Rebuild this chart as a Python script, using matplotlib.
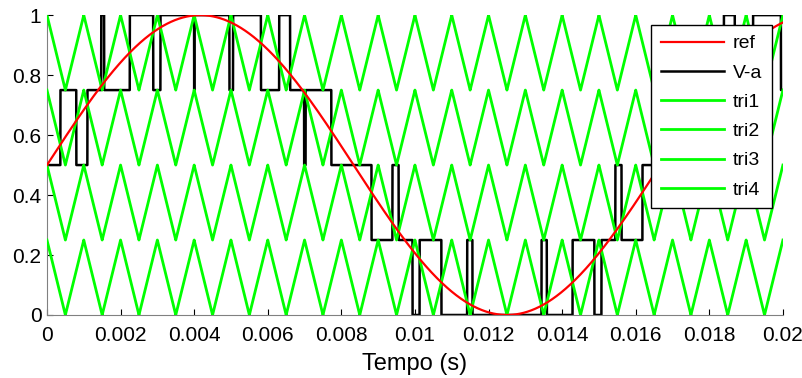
import numpy as np
import matplotlib
matplotlib.use("Agg")
import matplotlib.pyplot as plt
from matplotlib.ticker import FuncFormatter

plt.rcParams['font.family'] = ['Liberation Sans', 'DejaVu Sans']

# simulation parameters
t_end = 0.02          # s
ref_freq = 60.0       # Hz, reference sine
ref_offset = 0.5
ref_amp = 0.5
carrier_period = 0.001  # s, triangular carriers (1 kHz)
carrier_bottoms = [0.75, 0.5, 0.25, 0.0]  # tri1..tri4, in phase
carrier_height = 0.25
n_samples = 20001

labels = ['ref', 'V-a', 'tri1', 'tri2', 'tri3', 'tri4']
xticks = [0, 0.002, 0.004, 0.006, 0.008, 0.01, 0.012, 0.014, 0.016, 0.018, 0.02]
yticks = [0, 0.2, 0.4, 0.6, 0.8, 1]

t = np.linspace(0, t_end, n_samples)
ref = ref_offset + ref_amp * np.sin(2 * np.pi * ref_freq * t)

# triangles start at their top at t=0
phase = (t / carrier_period) % 1.0
tri_shape = np.abs(1 - 2 * phase)
tris = [b + carrier_height * tri_shape for b in carrier_bottoms]

# PD-PWM output: one level step per carrier below the reference
va = sum((ref >= tr) * carrier_height for tr in tris)

fig = plt.figure(figsize=(8.03, 3.78), dpi=100)
ax = fig.add_axes([0.0585, 0.1667, 0.9165, 0.7933])

ax.plot(t, va, color='black', lw=1.8, label='V-a', zorder=2)
for tr, lab in zip(tris, labels[2:]):
    ax.plot(t, tr, color='#00ff00', lw=2.0, label=lab, zorder=3)
ax.plot(t, ref, color='red', lw=1.6, label='ref', zorder=4)

ax.set_xlim(0, t_end)
ax.set_ylim(0, 1)
ax.set_xticks(xticks)
ax.set_yticks(yticks)
fmt = FuncFormatter(lambda v, p: '%g' % v)
ax.xaxis.set_major_formatter(fmt)
ax.yaxis.set_major_formatter(fmt)
ax.tick_params(direction='in', length=4, width=0.8, labelsize=15)
ax.tick_params(axis='x', pad=8)
ax.tick_params(axis='y', pad=4)
ax.set_xlabel('Tempo (s)', fontsize=17, labelpad=6)

ax.spines['top'].set_visible(False)
ax.spines['right'].set_visible(False)
for s in ['left', 'bottom']:
    ax.spines[s].set_color('#808080')

handles, labs = ax.get_legend_handles_labels()
order = [labs.index(l) for l in labels]
leg = ax.legend([handles[i] for i in order], [labs[i] for i in order],
                loc='upper right', bbox_to_anchor=(0.985, 0.967),
                fontsize=14, handlelength=3.25, handletextpad=0.45,
                labelspacing=0.6, borderpad=0.5, borderaxespad=0,
                fancybox=False, framealpha=1, edgecolor='black')
leg.get_frame().set_linewidth(1.0)

fig.savefig('out.png', dpi=100)
